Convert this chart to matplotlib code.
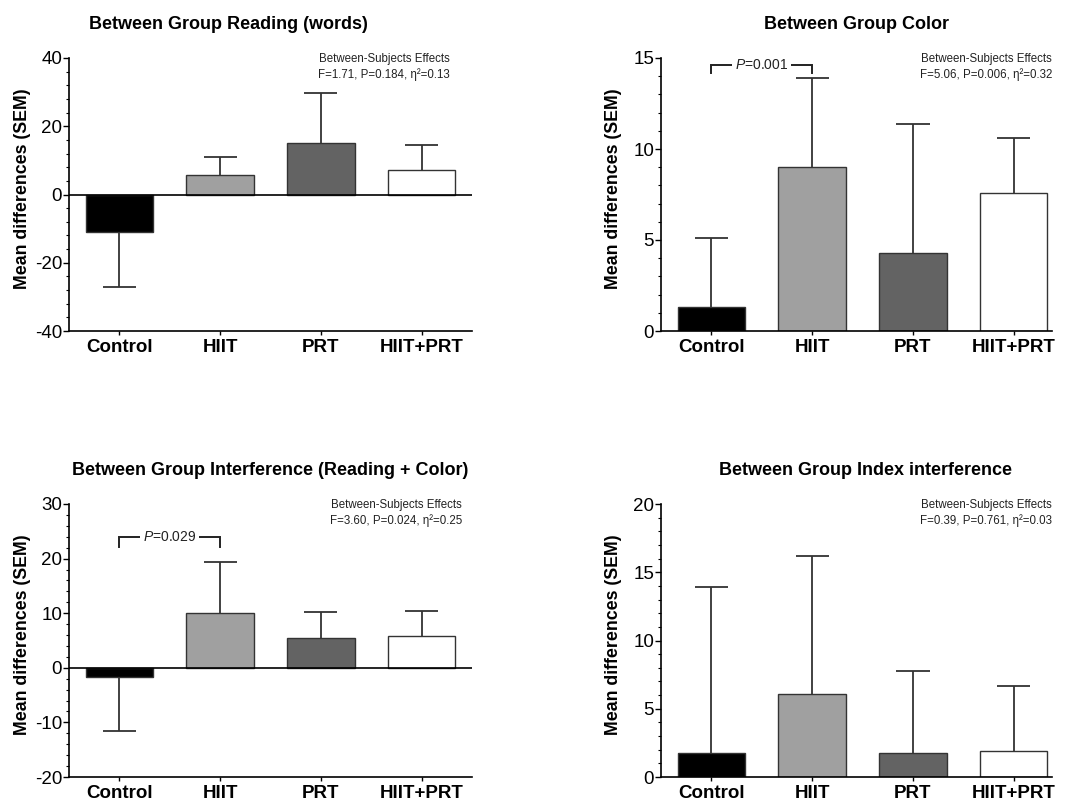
import matplotlib
matplotlib.use("Agg")
import matplotlib.pyplot as plt
from matplotlib.ticker import MultipleLocator
import numpy as np

plt.rcParams['font.family'] = ['Liberation Sans', 'DejaVu Sans']
plt.rcParams['mathtext.fontset'] = 'custom'
plt.rcParams['mathtext.rm'] = 'Liberation Sans'
plt.rcParams['mathtext.it'] = 'Liberation Sans:italic'
plt.rcParams['axes.unicode_minus'] = False

groups = ["Control", "HIIT", "PRT", "HIIT+PRT"]
bar_colors = ["#000000", "#a0a0a0", "#636363", "#ffffff"]

reading_mean = [-11.1, 5.8, 15.0, 7.1]
reading_sem = [16.0, 5.3, 14.6, 7.4]

color_mean = [1.3, 9.0, 4.3, 7.6]
color_sem = [3.8, 4.9, 7.1, 3.0]

interf_mean = [-1.6, 10.1, 5.4, 5.9]
interf_sem = [10.0, 9.2, 4.8, 4.5]

index_mean = [1.75, 6.1, 1.75, 1.9]
index_sem = [12.15, 10.1, 6.05, 4.8]

titles = ["Between Group Reading (words)", "Between Group Color",
          "Between Group Interference (Reading + Color)", "Between Group Index interference"]
stats = ["F=1.71, P=0.184, η²=0.13", "F=5.06, P=0.006, η²=0.32",
         "F=3.60, P=0.024, η²=0.25", "F=0.39, P=0.761, η²=0.03"]

W, H = 1066, 801
fig = plt.figure(figsize=(W / 100, H / 100), dpi=100)


def px_rect(x0, x1, ytop, ybot):
    return [x0 / W, 1 - ybot / H, (x1 - x0) / W, (ybot - ytop) / H]


def panel(rect, means, sems, ylim, major, minor, xmax, title, title_x, stat, stat_x, label_x,
          bracket=None):
    ax = fig.add_axes(rect)
    x = np.arange(len(groups))
    means = np.array(means)
    sems = np.array(sems)
    # one-sided SEM bars, pointing away from zero
    ends = np.where(means < 0, means - sems, means + sems)
    ax.vlines(x, means, ends, color="#333333", lw=1.3, zorder=1)
    ax.hlines(ends, x - 0.165, x + 0.165, color="#333333", lw=1.3, zorder=1)
    ax.bar(x, means, width=0.67, color=bar_colors, edgecolor="#333333", linewidth=1.0, zorder=2)
    ax.set_xlim(-0.5, xmax)
    ax.set_ylim(*ylim)
    if ylim[0] < 0:
        ax.axhline(0, color="black", lw=1.2, zorder=3)
    ax.spines["top"].set_visible(False)
    ax.spines["right"].set_visible(False)
    ax.spines["left"].set_linewidth(1.2)
    ax.spines["bottom"].set_linewidth(1.2)
    ax.yaxis.set_major_locator(MultipleLocator(major))
    ax.yaxis.set_minor_locator(MultipleLocator(minor))
    ax.tick_params(axis="y", which="major", length=4, width=1, labelsize=13.5, pad=1)
    ax.tick_params(axis="y", which="minor", length=2.5, width=0.8)
    ax.tick_params(axis="x", length=3, width=1, pad=3)
    ax.set_xticks(x)
    ax.set_xticklabels(groups, fontsize=13.5, fontweight="bold")
    ax.set_ylabel("Mean differences (SEM)", fontsize=12.8, fontweight="bold")
    ax.yaxis.set_label_coords(label_x, 0.52)
    ax.set_title(title, fontsize=13, fontweight="bold", pad=21, x=title_x)
    ax.text(stat_x, 0.996, "Between-Subjects Effects", transform=ax.get_xaxis_transform(),
            ha="right", va="center", fontsize=8.3, color="#222222")
    ax.text(stat_x, 0.941, stat, transform=ax.get_xaxis_transform(),
            ha="right", va="center", fontsize=8.3, color="#222222")
    if bracket is not None:
        label, yb, drop = bracket
        ax.plot([0, 0, 1, 1], [yb - drop, yb, yb, yb - drop], color="#222222", lw=1.4,
                solid_joinstyle="miter", clip_on=False)
        ax.text(0.5, yb, label, ha="center", va="center", fontsize=10, color="#222222",
                bbox=dict(facecolor="white", edgecolor="none", pad=2))
    return ax


panel(px_rect(69, 472, 58, 331), reading_mean, reading_sem, (-40, 40), 20, 4, 3.5,
      titles[0], 0.395, stats[0], 3.28, -0.095)
panel(px_rect(661, 1052, 58, 331), color_mean, color_sem, (0, 15), 5, 1, 3.38,
      titles[1], 0.5, stats[1], 3.38, -0.1, bracket=(r"$\mathit{P}$=0.001", 14.6, 0.4))
panel(px_rect(69, 472, 504, 777), interf_mean, interf_sem, (-20, 30), 10, 2, 3.5,
      titles[2], 0.5, stats[2], 3.40, -0.095, bracket=(r"$\mathit{P}$=0.029", 24.0, 1.8))
panel(px_rect(661, 1052, 504, 777), index_mean, index_sem, (0, 20), 5, 1, 3.38,
      titles[3], 0.524, stats[3], 3.38, -0.1)

fig.savefig("out.png", dpi=100)
